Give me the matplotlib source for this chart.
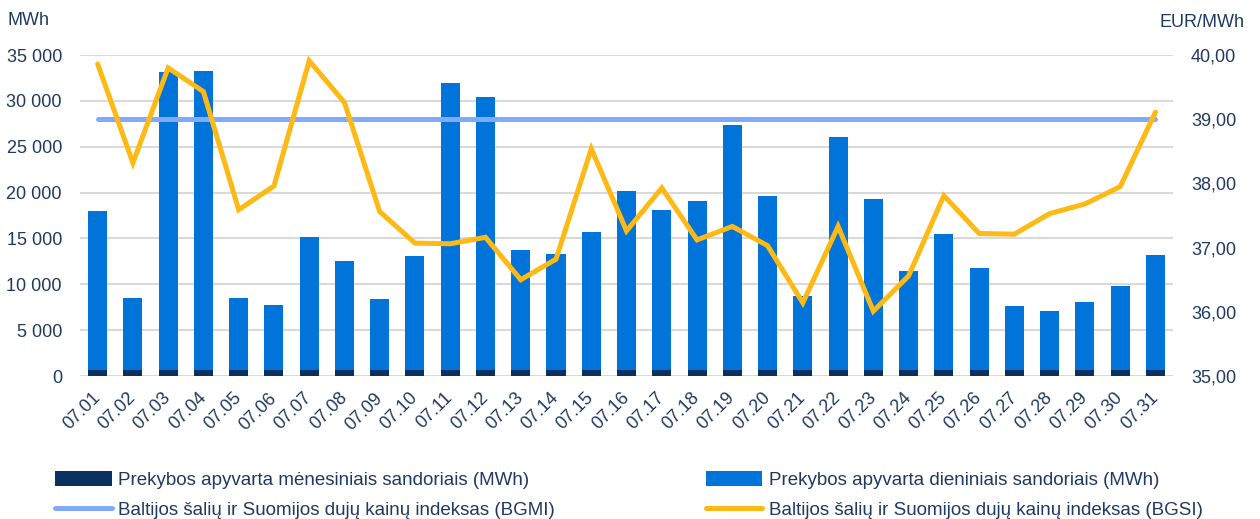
import matplotlib
matplotlib.use("Agg")
import matplotlib.pyplot as plt
from matplotlib.patches import Patch
from matplotlib.lines import Line2D
from matplotlib.ticker import FuncFormatter, MultipleLocator

# data
days = ['07.01', '07.02', '07.03', '07.04', '07.05', '07.06', '07.07', '07.08',
        '07.09', '07.10', '07.11', '07.12', '07.13', '07.14', '07.15', '07.16',
        '07.17', '07.18', '07.19', '07.20', '07.21', '07.22', '07.23', '07.24',
        '07.25', '07.26', '07.27', '07.28', '07.29', '07.30', '07.31']

# monthly contracts (MWh), bottom of each stack
monthly = [700, 700, 700, 700, 700, 700, 700, 700, 700, 700, 700,
           700, 700, 700, 700, 700, 700, 700, 700, 700, 700, 700,
           700, 700, 700, 700, 700, 700, 700, 700, 700]

# daily contracts (MWh), stacked on top
daily = [17250, 7760, 32480, 32590, 7800, 7040, 14410, 11790, 7690, 12340, 31200,
         29720, 13040, 12600, 15000, 19500, 17400, 18380, 26620, 18920, 7980, 25310,
         18550, 10700, 14740, 11110, 6970, 6350, 7330, 9110, 12450]

# price indexes (EUR/MWh)
bgmi = [39.00] * 31
bgsi = [39.86, 38.32, 39.80, 39.43, 37.59, 37.96, 39.91, 39.26, 37.56, 37.07, 37.06,
        37.16, 36.50, 36.82, 38.54, 37.26, 37.93, 37.12, 37.33, 37.03, 36.14, 37.33,
        36.01, 36.56, 37.81, 37.22, 37.21, 37.53, 37.68, 37.95, 39.11]

labels = ['Prekybos apyvarta mėnesiniais sandoriais (MWh)',
          'Prekybos apyvarta dieniniais sandoriais (MWh)',
          'Baltijos šalių ir Suomijos dujų kainų indeksas (BGMI)',
          'Baltijos šalių ir Suomijos dujų kainų indeksas (BGSI)']

textColor = '#1f3a60'
darkBlue = '#0a3060'
midBlue = '#0074d9'
lightBlue = '#80aaff'
yellow = '#ffb915'

matplotlib.rcParams.update({'font.family': 'Liberation Sans', 'font.size': 13})

fig = plt.figure(figsize=(12.6, 5.19), dpi=100)
ax = fig.add_axes([0.0635, 0.2755, 0.8675, 0.6185])

x = list(range(len(days)))
ax.bar(x, monthly, width=0.54, color=darkBlue, zorder=2)
ax.bar(x, daily, width=0.54, bottom=monthly, color=midBlue, zorder=2)

ax.set_xlim(-0.5, 30.5)
ax.set_ylim(0, 35000)
ax.yaxis.set_major_locator(MultipleLocator(5000))
ax.yaxis.set_major_formatter(FuncFormatter(lambda v, p: '{:,.0f}'.format(v).replace(',', ' ')))
ax.grid(True, axis='y', color='#d9d9d9', lw=1.5, zorder=0)
ax.set_axisbelow(True)
ax.set_xticks(x)
ax.set_xticklabels(days, rotation=45, ha='right', va='center', rotation_mode='anchor')
ax.tick_params(axis='x', length=0, pad=14, labelcolor=textColor, labelsize=13)
ax.tick_params(axis='y', length=0, pad=13, labelcolor=textColor, labelsize=13)
for s in ax.spines.values():
    s.set_visible(False)

# price axis on the right
ax2 = ax.twinx()
ax2.plot(x, bgmi, color=lightBlue, lw=3.6, solid_capstyle='round', zorder=3)
ax2.plot(x, bgsi, color=yellow, lw=3.6, solid_capstyle='round', solid_joinstyle='miter', zorder=4)
ax2.set_ylim(35, 40)
ax2.yaxis.set_major_locator(MultipleLocator(1))
ax2.yaxis.set_major_formatter(FuncFormatter(lambda v, p: '{:.2f}'.format(v).replace('.', ',')))
ax2.tick_params(axis='y', length=0, pad=13, labelcolor=textColor, labelsize=13)
for s in ax2.spines.values():
    s.set_visible(False)

fig.text(0.006, 0.96, 'MWh', color=textColor, fontsize=13, ha='left', va='center')
fig.text(0.988, 0.957, 'EUR/MWh', color=textColor, fontsize=13, ha='right', va='center')

handles = [Patch(facecolor=darkBlue),
           Line2D([], [], color=lightBlue, lw=3.6, solid_capstyle='round'),
           Patch(facecolor=midBlue),
           Line2D([], [], color=yellow, lw=3.6, solid_capstyle='round')]
legLabels = [labels[0], labels[2], labels[1], labels[3]]
fig.legend(handles, legLabels, loc='upper left', bbox_to_anchor=(0.0365, 0.111), ncol=2,
           frameon=False, fontsize=13.5, labelcolor=textColor, handlelength=3.0,
           handleheight=0.9, handletextpad=0.35, columnspacing=8.05, labelspacing=0.65,
           borderpad=0)

fig.savefig('out.png', dpi=100)
